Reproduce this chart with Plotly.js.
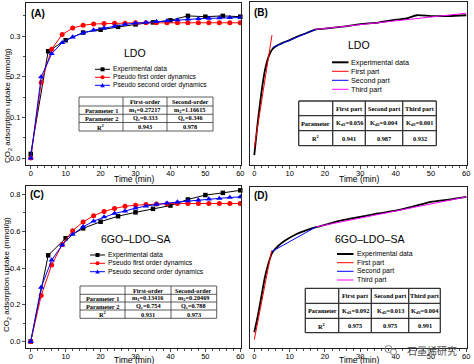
<!DOCTYPE html>
<html>
<head>
<meta charset="utf-8">
<script src="https://cdn.plot.ly/plotly-3.0.1.min.js"></script>
<style>html,body{margin:0;padding:0;background:#fff}#chart{width:474px;height:364px}</style>
</head>
<body>
<div id="chart"></div>
<script>
// ---------------- data ----------------
// Panel A / C: kinetic fits (markers every 3 min), experiment every 5 min
const expTime = [0,5,10,15,20,25,30,35,40,45,50,55,60];
const fitTime = [0,3,6,9,12,15,18,21,24,27,30,33,36,39,42,45,48,51,54,57,60];

const ldoExp = [0.010,0.263,0.290,0.309,0.316,0.323,0.329,0.334,0.339,0.350,0.348,0.350,0.348];
const ldoPFO = [0,0.186,0.268,0.304,0.320,0.327,0.330,0.331,0.332,0.332,0.333,0.333,0.333,0.333,0.333,0.333,0.333,0.333,0.333,0.333,0.333];
const ldoPSO = [0,0.200,0.257,0.284,0.298,0.308,0.315,0.320,0.325,0.329,0.332,0.334,0.336,0.338,0.340,0.342,0.343,0.344,0.345,0.346,0.346];

const gsaExp = [0,0.469,0.562,0.616,0.652,0.682,0.703,0.722,0.740,0.773,0.797,0.809,0.823];
const gsaPFO = [0,0.250,0.417,0.528,0.603,0.651,0.684,0.708,0.724,0.736,0.742,0.746,0.748,0.750,0.751,0.751,0.751,0.751,0.751,0.751,0.751];
const gsaPSO = [0,0.295,0.443,0.525,0.583,0.624,0.655,0.678,0.697,0.710,0.726,0.737,0.747,0.753,0.759,0.765,0.770,0.775,0.779,0.784,0.787];

// Panel B / D: experimental curve and three linear parts
const ldoCurveTime = [0,1,2,3,4,5,6,8,10,12,15,17.5,20,25,30,35,40,43,46,50,55,60];
const ldoCurve = [0.007,0.090,0.160,0.215,0.248,0.266,0.274,0.283,0.290,0.298,0.308,0.316,0.318,0.323,0.329,0.333,0.340,0.343,0.351,0.349,0.349,0.351];
const ldoPart1Time = [0,5], ldoPart1 = [0.025,0.302];
const ldoPart2Time = [5.2,17.3], ldoPart2 = [0.272,0.316];
const ldoPart3Time = [17.3,60], ldoPart3 = [0.316,0.356];

const gsaCurveTime = [0,1,2,3,4,5,6,8,10,12,15,17.5,20,25,30,35,40,45,50,55,60];
const gsaCurve = [0.050,0.140,0.245,0.350,0.425,0.480,0.505,0.540,0.565,0.585,0.607,0.622,0.635,0.660,0.678,0.697,0.712,0.735,0.760,0.772,0.787];
const gsaPart1Time = [0,4.9], gsaPart1 = [0.010,0.495];
const gsaPart2Time = [5,17.5], gsaPart2 = [0.490,0.624];
const gsaPart3Time = [17.5,60], gsaPart3 = [0.624,0.787];

// labels
const panelLabels = ['(A)','(B)','(C)','(D)'];
const sampleNames = ['LDO','LDO','6GO\u2013LDO\u2013SA','6GO\u2013LDO\u2013SA'];
const kineticLegend = ['Experimental data','Pseudo first order dynamics','Pseudo second order dynamics'];
const partLegend = ['Experimental data','First part','Second part','Third part'];
const xTitle = 'Time (min)';
const yTitle = 'CO<sub>2</sub> adsorption uptake (mmol/g)';

const tableAHead = ['','First-order','Second-order'];
const tableARows = [['Parameter 1','m<sub>1</sub>=0.27217','m<sub>2</sub>=1.16615'],
                    ['Parameter 2','Q<sub>e</sub>=0.333','Q<sub>e</sub>=0.346'],
                    ['R<sup>2</sup>','0.943','0.978']];
const tableCRows = [['Parameter 1','m<sub>1</sub>=0.13416','m<sub>2</sub>=0.20469'],
                    ['Parameter 2','Q<sub>e</sub>=0.754','Q<sub>e</sub>=0.788'],
                    ['R<sup>2</sup>','0.931','0.973']];
const tableBHead = ['','First part','Second part','Third part'];
const tableBRows = [['Parameter','K<sub>d1</sub>=0.056','K<sub>d2</sub>=0.004','K<sub>d3</sub>=0.001'],
                    ['R<sup>2</sup>','0.941','0.987','0.932']];
const tableDRows = [['Parameter','K<sub>d1</sub>=0.092','K<sub>d2</sub>=0.013','K<sub>d3</sub>=0.004'],
                    ['R<sup>2</sup>','0.975','0.975','0.991']];
const watermark = '\u77f3\u58a8\u70ef\u7814\u7a76';

// ---------------- helpers ----------------
const W = 474, H = 364;
const fx = p => p / W;
const fy = p => 1 - p / H;
const SANS = 'Liberation Sans, Arial, sans-serif';
const SERIF = 'Liberation Serif, Times New Roman, serif';
const RED = '#ff0000', BLUE = '#0000ff', MAG = '#ff00ff', BLK = '#000000';

const shapes = [];
const annotations = [];
function line(x0,y0,x1,y1,w,c){shapes.push({type:'line',xref:'paper',yref:'paper',x0:fx(x0),y0:fy(y0),x1:fx(x1),y1:fy(y1),line:{width:w,color:c}});}
function txt(x,y,s,size,o){o=o||{};annotations.push({xref:'paper',yref:'paper',x:fx(x),y:fy(y),text:s,showarrow:false,
  font:{family:o.family||SANS,size:size,color:o.color||'#000'},xanchor:o.xa||'center',yanchor:'middle',textangle:o.angle||0,borderpad:0});}
function sq(cx,cy,s,c){shapes.push({type:'rect',xref:'paper',yref:'paper',x0:fx(cx-s/2),x1:fx(cx+s/2),y0:fy(cy+s/2),y1:fy(cy-s/2),fillcolor:c,line:{width:0}});}
function circ(cx,cy,s,c,lc){shapes.push({type:'circle',xref:'paper',yref:'paper',x0:fx(cx-s/2),x1:fx(cx+s/2),y0:fy(cy+s/2),y1:fy(cy-s/2),fillcolor:c,line:{width:lc?0.9:0,color:lc||c}});}
function tri(cx,cy,s,c){shapes.push({type:'path',xref:'paper',yref:'paper',path:`M ${fx(cx-s/2)} ${fy(cy+s/2.4)} L ${fx(cx+s/2)} ${fy(cy+s/2.4)} L ${fx(cx)} ${fy(cy-s/2)} Z`,fillcolor:c,line:{width:0}});}

function table(x, y, rows, head, lw, fs){
  y.forEach(v=>line(x[0],v,x[x.length-1],v,lw,'#333'));
  x.forEach(v=>line(v,y[0],v,y[y.length-1],lw,'#333'));
  const all=[head].concat(rows);
  all.forEach((r,i)=>r.forEach((s,j)=>{ if(s) txt((x[j]+x[j+1])/2,(y[i]+y[i+1])/2,'<b>'+s+'</b>',fs,{family:SERIF}); }));
}

// ---------------- traces ----------------
const traces = [];
function kin(xa,ya,exp,pfo,pso){
  traces.push({x:expTime,y:exp,xaxis:xa,yaxis:ya,mode:'lines+markers',line:{color:BLK,width:1},marker:{symbol:'square',size:4.5,color:BLK},showlegend:false,cliponaxis:false});
  traces.push({x:fitTime,y:pfo,xaxis:xa,yaxis:ya,mode:'lines+markers',line:{color:RED,width:1},marker:{symbol:'circle',size:5,color:RED},showlegend:false});
  traces.push({x:fitTime,y:pso,xaxis:xa,yaxis:ya,mode:'lines+markers',line:{color:BLUE,width:1},marker:{symbol:'triangle-up',size:5.5,color:BLUE},showlegend:false});
}
kin('x','y',ldoExp,ldoPFO,ldoPSO);
kin('x3','y3',gsaExp,gsaPFO,gsaPSO);
function parts(xa,ya,ct,c,t1,p1,t2,p2,t3,p3){
  traces.push({x:ct,y:c,xaxis:xa,yaxis:ya,mode:'lines',line:{color:BLK,width:1.8,shape:'spline',smoothing:0.6},showlegend:false});
  traces.push({x:t1,y:p1,xaxis:xa,yaxis:ya,mode:'lines',line:{color:RED,width:1},showlegend:false});
  traces.push({x:t2,y:p2,xaxis:xa,yaxis:ya,mode:'lines',line:{color:BLUE,width:1},showlegend:false});
  traces.push({x:t3,y:p3,xaxis:xa,yaxis:ya,mode:'lines',line:{color:MAG,width:1},showlegend:false});
}
parts('x2','y2',ldoCurveTime,ldoCurve,ldoPart1Time,ldoPart1,ldoPart2Time,ldoPart2,ldoPart3Time,ldoPart3);
parts('x4','y4',gsaCurveTime,gsaCurve,gsaPart1Time,gsaPart1,gsaPart2Time,gsaPart2,gsaPart3Time,gsaPart3);

// ---------------- decorations ----------------
function kinLegend(x0,x1,xt,rows,fs){
  const cols=[BLK,RED,BLUE], mk=[sq,circ,tri], sz=[4,4,4.5];
  rows.forEach((r,i)=>{ line(x0,r,x1,r,1,cols[i]); mk[i]((x0+x1)/2,r,sz[i],cols[i]); txt(xt,r,kineticLegend[i],fs,{xa:'left'}); });
}
kinLegend(95,110,111.5,[69.3,77.3,85.3],6.7);
kinLegend(90,105,106.5,[255,263.3,271.7],6.8);
function partLeg(x0,x1,xt,rows,fs){
  const cols=[BLK,RED,BLUE,MAG], w=[2,1,1,1];
  rows.forEach((r,i)=>{ line(x0,r,x1,r,w[i],cols[i]); txt(xt,r,partLegend[i],fs,{xa:'left'}); });
}
partLeg(332,348.5,350,[62.3,71.3,80.3,89.3],7.2);
partLeg(337,353.5,355.5,[254,262.7,271.3,280],6.9);

table([79,123,167,213],[97,106,114.3,122.5,131],tableARows,tableAHead,0.8,6.3);
table([80,125,171,216.7],[286,294.3,302,310,318.3],tableCRows,tableAHead,0.8,6.3);
table([298.7,332.7,365.3,402.7,436.3],[101,115.7,130.7,145.7],tableBRows,tableBHead,1.3,6.3);
table([305.3,338.7,371.3,408.7,440.3],[288.3,303.3,318.3,332.7],tableDRows,tableBHead,1.3,6.3);

txt(37.5,13.5,'<b>'+panelLabels[0]+'</b>',10);
txt(261,12.5,'<b>'+panelLabels[1]+'</b>',10);
txt(37,194,'<b>'+panelLabels[2]+'</b>',10);
txt(261,195.5,'<b>'+panelLabels[3]+'</b>',10);
txt(135,53,sampleNames[0],10.5);
txt(359,44.5,sampleNames[1],10.5);
txt(135,238.5,sampleNames[2],10.5);
txt(369.5,238.5,sampleNames[3],10.5);

txt(133.5,179,xTitle,8.5);
txt(358.6,179,xTitle,8.5);
txt(133.5,360,xTitle,8.5);
txt(358.6,360,xTitle,8.5);
txt(8,106,yTitle,8,{angle:-90});
txt(7,275,yTitle,8,{angle:-90});

// watermark (icon + text)
circ(388.5,349,7,'rgba(255,255,255,0)','#777');
circ(393.5,352,6,'#fff','#777');
txt(432,350.5,watermark,10,{family:'Noto Sans CJK SC',color:'#555'});

// ---------------- axes ----------------
const axBase = {showgrid:false,zeroline:false,showline:true,mirror:true,linecolor:'#222',linewidth:1,
  tickfont:{family:SANS,size:7.5,color:'#000'},ticks:'outside',ticklen:3,tickwidth:0.8,tickcolor:'#222'};
const xBase = Object.assign({},axBase,{tick0:0,dtick:10,ticklabelstandoff:-2,minor:{dtick:2,ticks:'outside',ticklen:1.8,tickcolor:'#222'}});
const layout = {
  width:W,height:H,autosize:false,margin:{l:0,r:0,t:0,b:0},paper_bgcolor:'#fff',plot_bgcolor:'#fff',showlegend:false,
  xaxis: Object.assign({},xBase,{domain:[fx(26),fx(241)],range:[-1.35,60.2],anchor:'y'}),
  yaxis: Object.assign({},axBase,{domain:[fy(165),fy(3.3)],range:[-0.0172,0.381],anchor:'x',dtick:0.1,tick0:0,tickformat:'.1f',minor:{dtick:0.05,ticks:'outside',ticklen:1.8,tickcolor:'#222'}}),
  xaxis2: Object.assign({},xBase,{domain:[fx(250.3),fx(467)],range:[-1.13,60.2],anchor:'y2'}),
  yaxis2: Object.assign({},axBase,{domain:[fy(165),fy(1.7)],range:[-0.0172,0.3843],anchor:'x2',showticklabels:false,ticks:''}),
  xaxis3: Object.assign({},xBase,{domain:[fx(26),fx(241)],range:[-1.35,60.2],anchor:'y3'}),
  yaxis3: Object.assign({},axBase,{domain:[fy(348.3),fy(185.7)],range:[-0.037,0.848],anchor:'x3',dtick:0.2,tick0:0,tickformat:'.1f',minor:{dtick:0.1,ticks:'outside',ticklen:1.8,tickcolor:'#222'}}),
  xaxis4: Object.assign({},xBase,{domain:[fx(250.3),fx(467)],range:[-1.13,60.2],anchor:'y4'}),
  yaxis4: Object.assign({},axBase,{domain:[fy(348.3),fy(186.7)],range:[-0.037,0.8425],anchor:'x4',showticklabels:false,ticks:''}),
  shapes:shapes, annotations:annotations
};
Plotly.newPlot('chart',traces,layout,{staticPlot:true,displayModeBar:false});
</script>
</body>
</html>
